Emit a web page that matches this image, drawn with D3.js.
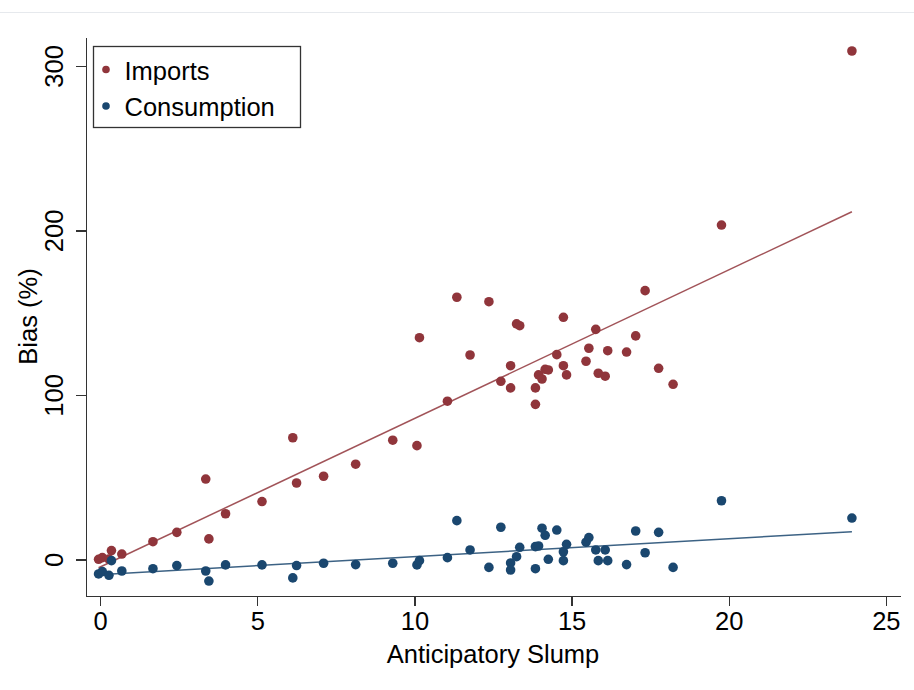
<!DOCTYPE html>
<html>
<head>
  <script src="https://d3js.org/d3.v7.min.js"></script>
  <style>
    body {
        margin: 0;
        background: white;
    }

    text {
        font-family: "Liberation Sans", Arial, sans-serif;
        fill: black;
    }

    .axis path,
    .axis line {
        stroke: #333;
        stroke-width: 1.3;
        shape-rendering: crispEdges;
    }

    .fit {
        fill: none;
        stroke-width: 1.5;
        stroke-opacity: 0.85;
    }
  </style>
</head>
<body>
  <div id="chart"></div>

  <script>
    var w = 914;
    var h = 690;
    var fontSize = "25.5px";

    var redColor = "#90353b";
    var blueColor = "#1a476f";

    // anticipatory slump, one value per country (same x for both series)
    var slump = [-0.05, 0.07, 0.28, 0.36, 0.69, 1.68, 2.44, 3.36, 3.46, 3.99,
      5.15, 6.13, 6.25, 7.11, 8.13, 9.31, 10.08, 10.16, 11.05, 11.35,
      11.77, 12.37, 12.75, 13.06, 13.06, 13.25, 13.35, 13.85, 13.85, 13.95,
      14.06, 14.16, 14.26, 14.53, 14.74, 14.74, 14.84, 15.46, 15.55, 15.77,
      15.85, 16.07, 16.15, 16.75, 17.04, 17.34, 17.77, 18.23, 19.77, 23.92];

    var imports = [0.4, 1.4, 0.5, 5.7, 3.6, 11.1, 16.8, 49.2, 12.8, 28.1,
      35.5, 74.3, 46.8, 50.9, 58.2, 72.8, 69.5, 135.1, 96.5, 159.7,
      124.6, 157.0, 108.6, 118.1, 104.6, 143.5, 142.4, 94.6, 104.6, 112.5,
      110.0, 115.9, 115.5, 124.8, 147.5, 118.1, 112.5, 120.8, 128.7, 140.2,
      113.5, 111.7, 127.2, 126.4, 136.2, 163.7, 116.5, 106.8, 203.6, 309.4];

    var consumption = [-8.5, -7.1, -9.3, -0.4, -6.7, -5.3, -3.4, -6.7, -12.8, -3.0,
      -3.0, -10.9, -3.4, -2.0, -2.8, -2.0, -3.0, -0.4, 1.4, 23.9,
      6.1, -4.5, 19.9, -1.8, -6.1, 2.0, 7.7, -5.3, 8.1, 8.5,
      19.3, 15.0, 0.4, 18.2, 5.0, -0.4, 9.5, 10.8, 13.6, 6.1,
      -0.4, 6.1, -0.4, -2.8, 17.6, 4.4, 16.8, -4.5, 36.0, 25.5];

    // linear fit lines: [x, y] at both ends
    var fitImports = [[-0.05, -4.75], [23.92, 211.7]];
    var fitConsumption = [[-0.05, -8.95], [23.92, 17.2]];

    var xTicks = [0, 5, 10, 15, 20, 25];
    var yTicks = [0, 100, 200, 300];

    var svg = d3.select("#chart")
      .append("svg")
      .attr("width", w)
      .attr("height", h);

    // faint page border at the top
    svg.append("line")
      .attr("x1", 0).attr("x2", w)
      .attr("y1", 12.5).attr("y2", 12.5)
      .attr("stroke", "#e6e9ed")
      .attr("stroke-width", 1);

    var xScale = d3.scaleLinear().domain([-0.45, 25.45]).range([86, 900]);
    var yScale = d3.scaleLinear().domain([-21.9, 317.9]).range([596, 37]);

    var xAxis = d3.axisBottom(xScale).tickValues(xTicks).tickSize(10).tickSizeOuter(0).tickPadding(6);
    var yAxis = d3.axisLeft(yScale).tickValues(yTicks).tickSize(10).tickSizeOuter(0);

    var xAxisGroup = svg.append("g")
      .attr("class", "x axis")
      .attr("transform", "translate(0,596)")
      .call(xAxis);
    xAxisGroup.selectAll("text")
      .style("font-size", fontSize)
      .attr("dy", "0.71em");

    var yAxisGroup = svg.append("g")
      .attr("class", "y axis")
      .attr("transform", "translate(86,0)")
      .call(yAxis);
    yAxisGroup.selectAll("text")
      .style("font-size", fontSize)
      .attr("x", 0)
      .attr("dy", 0)
      .attr("transform", d => "translate(-23," + yScale(d) + ") rotate(-90)")
      .attr("y", 0)
      .style("text-anchor", "middle");
    yAxisGroup.selectAll(".tick").attr("transform", null);
    yAxisGroup.selectAll(".tick line")
      .attr("transform", d => "translate(0," + yScale(d) + ")");

    // axis titles
    svg.append("text")
      .attr("x", xScale(12.5))
      .attr("y", 663)
      .attr("text-anchor", "middle")
      .style("font-size", fontSize)
      .text("Anticipatory Slump");

    svg.append("text")
      .attr("transform", "translate(37," + yScale(148) + ") rotate(-90)")
      .attr("text-anchor", "middle")
      .style("font-size", fontSize)
      .text("Bias (%)");

    // fit lines
    var line = d3.line()
      .x(d => xScale(d[0]))
      .y(d => yScale(d[1]));

    svg.append("path")
      .attr("class", "fit")
      .attr("d", line(fitImports))
      .attr("stroke", redColor);

    svg.append("path")
      .attr("class", "fit")
      .attr("d", line(fitConsumption))
      .attr("stroke", blueColor);

    // points
    svg.selectAll(".circleImports").data(slump).enter().append("circle")
      .attr("class", "circleImports")
      .attr("cx", d => xScale(d))
      .attr("cy", (d, i) => yScale(imports[i]))
      .attr("r", 4.8)
      .attr("fill", redColor);

    svg.selectAll(".circleConsumption").data(slump).enter().append("circle")
      .attr("class", "circleConsumption")
      .attr("cx", d => xScale(d))
      .attr("cy", (d, i) => yScale(consumption[i]))
      .attr("r", 4.8)
      .attr("fill", blueColor);

    // legend
    var legend = svg.append("g").attr("transform", "translate(93.5,46.5)");
    legend.append("rect")
      .attr("width", 207)
      .attr("height", 81)
      .attr("fill", "white")
      .attr("stroke", "#333")
      .attr("stroke-width", 1.3);

    var legendItems = [["Imports", redColor], ["Consumption", blueColor]];
    legendItems.forEach(function(item, i) {
      legend.append("circle")
        .attr("cx", 12.5)
        .attr("cy", 23 + i * 36.5)
        .attr("r", 3.8)
        .attr("fill", item[1]);
      legend.append("text")
        .attr("x", 31)
        .attr("y", 33 + i * 36)
        .style("font-size", fontSize)
        .text(item[0]);
    });
  </script>
</body>
</html>
